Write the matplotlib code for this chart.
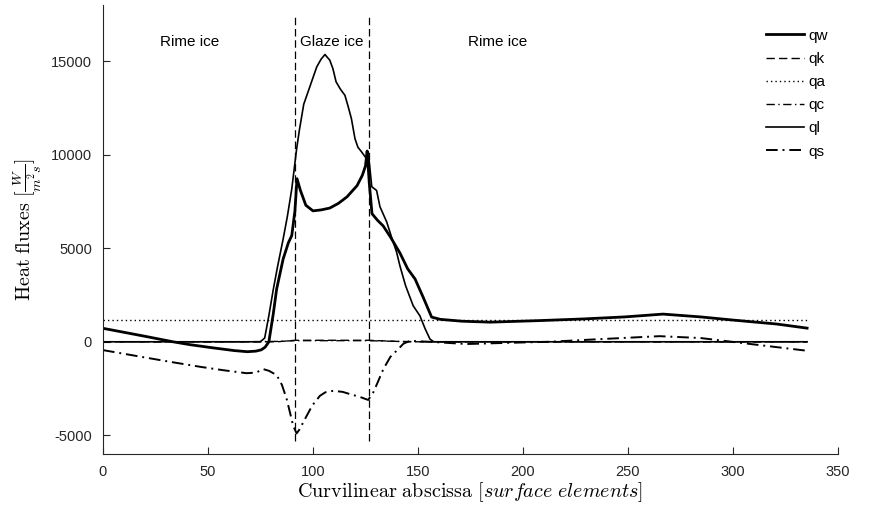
import numpy as np
import matplotlib
matplotlib.use('Agg')
import matplotlib.pyplot as plt

plt.rcParams['font.family'] = ['Liberation Sans', 'DejaVu Sans']
plt.rcParams['mathtext.fontset'] = 'cm'
plt.rcParams['axes.unicode_minus'] = False

# values
x_qw = [0, 10.8, 21.1, 33.3, 41.8, 52.1, 62.5, 68.7, 72.8, 75.4, 77.2, 79.0, 81.1, 82.7,
        85.8, 88.3, 89.9, 91.4, 92.4, 94.0, 96.6, 100.0, 103.8, 108.0, 112.1, 116.2, 121.0,
        123.5, 125.0, 125.8, 126.8, 128.1, 130.7, 133.4, 136.9, 141.4, 145.1, 148.6, 152.4,
        156.5, 160.6, 171.0, 184.4, 207.1, 228.5, 248.5, 266.7, 284.6, 300.1, 320.8, 335.3]
y_qw = [720, 490, 270, 0, -160, -320, -470, -530, -500, -430, -290, 0, 1500, 2820, 4430,
        5300, 5680, 7000, 8720, 8100, 7300, 7000, 7050, 7150, 7400, 7750, 8350, 8900,
        9400, 10200, 8500, 6850, 6500, 6200, 5600, 4750, 3900, 3360, 2400, 1320, 1200,
        1100, 1050, 1130, 1220, 1330, 1480, 1330, 1160, 950, 730]

x_qk = [0, 83, 91.4, 126.5, 145, 335.3]
y_qk = [0, 0, 80, 80, 0, 0]

x_qa = [0, 335.3]
y_qa = [1160, 1160]

x_qc = [0, 62.5, 83, 91.4, 103.8, 126.5, 140, 155.5, 335.3]
y_qc = [0, 0, 20, 60, 60, 60, 20, 0, 0]

x_ql = [0, 74.9, 77.0, 79.0, 81.1, 83.1, 85.8, 87.8, 89.9, 92.2, 93.5, 95.6, 98.7, 101.8,
        103.8, 105.7, 106.9, 108.0, 109.5, 111.0, 113.1, 115.2, 116.7, 118.3, 120.0, 121.4,
        123.1, 125.5, 126.5, 128.0, 130.3, 131.9, 135.1, 137.4, 139.8, 141.4, 144.1, 147.7,
        150.9, 153.4, 155.7, 157.5, 207.1, 335.3]
y_ql = [0, 0, 200, 1400, 2800, 4000, 5500, 6700, 8170, 10300, 11300, 12700, 13700, 14700,
        15100, 15360, 15200, 15060, 14600, 13900, 13500, 13180, 12600, 11930, 10860,
        10400, 10160, 9790, 9950, 8290, 8090, 7220, 6410, 5600, 4800, 4060, 3000, 1930,
        1390, 700, 145, 0, 0, 0]

x_qs = [0, 16, 31.9, 47, 57.3, 68.4, 72.8, 76.3, 79, 82.7, 85.2, 87.5, 89.3, 90.6, 92.2,
        93.5, 97, 99.7, 103.3, 105.9, 109.7, 114.2, 117.7, 122.4, 126.3, 128.7, 130.7,
        133.5, 136.9, 140.6, 143.1, 146.2, 155.5, 173.1, 191.6, 212.3, 238.1, 265, 284.6,
        308.4, 335.3]
y_qs = [-445, -760, -1070, -1350, -1520, -1680, -1650, -1460, -1550, -1780, -2300, -3070,
        -3900, -4500, -4900, -4700, -3960, -3400, -2890, -2700, -2620, -2680, -2800, -2950,
        -3110, -2710, -2200, -1460, -800, -390, -100, 50, 0, -120, -60, 0, 150, 300, 200,
        -120, -480]

# ice regime boundaries
x_bounds = [91.4, 126.5]
bound_span = [-5300, 17500]
zone_labels = ['Rime ice', 'Glaze ice', 'Rime ice']
zone_x = [41.4, 109, 188.1]

fig = plt.figure(figsize=(8.69, 5.13), dpi=100)
ax = fig.add_axes([0.1185, 0.115, 0.8458, 0.875])

dd = (6, 2.5, 1, 2.5)
ax.plot(x_qw, y_qw, color='k', lw=2.0, label='qw')
ax.plot(x_qk, y_qk, color='k', lw=1.0, dashes=(6, 3), label='qk')
ax.plot(x_qa, y_qa, color='k', lw=1.0, linestyle=(0, (1, 2.2)), label='qa')
ax.plot(x_qc, y_qc, color='k', lw=1.0, dashes=dd, label='qc')
ax.plot(x_ql, y_ql, color='k', lw=1.2, label='ql')
ax.plot(x_qs, y_qs, color='k', lw=1.4, dashes=dd, label='qs')

for xb in x_bounds:
    ax.plot([xb, xb], bound_span, color='k', lw=0.9, dashes=(6, 3))

for lab, xz in zip(zone_labels, zone_x):
    ax.text(xz, 16050, lab, ha='center', va='center', fontsize=11)

ax.set_xlim(0, 350)
ax.set_ylim(-6000, 18000)
ax.set_xticks(np.arange(0, 351, 50))
ax.set_yticks([-5000, 0, 5000, 10000, 15000])

for s in ['top', 'right']:
    ax.spines[s].set_visible(False)
for s in ['left', 'bottom']:
    ax.spines[s].set_color('#262626')
    ax.spines[s].set_linewidth(0.8)
ax.tick_params(direction='in', length=5, width=0.8, color='#262626',
               labelsize=10.5, labelcolor='#262626', pad=8)

ax.set_xlabel(r'$\mathrm{Curvilinear\ abscissa}\ [surface\ elements]$', fontsize=14.5,
              labelpad=1)
ax.set_ylabel(r'$\mathrm{Heat\ fluxes}\ [\frac{W}{m^2 s}]$', fontsize=14.5, labelpad=5)

leg = ax.legend(loc='upper right', bbox_to_anchor=(1.005, 0.978), frameon=False,
                fontsize=11, handlelength=2.5, handletextpad=0.3, labelspacing=0.6)

fig.savefig('out.png', dpi=100)
